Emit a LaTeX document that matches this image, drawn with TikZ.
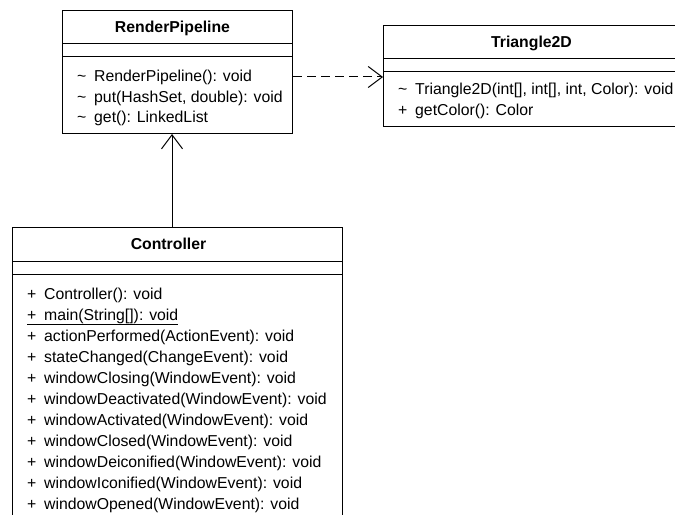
\documentclass[tikz,border=0pt]{standalone}
\usepackage{fontspec}
\setmainfont{Liberation Sans}
\usetikzlibrary{arrows.meta}

\tikzset{
  classbox/.style={draw=black, line width=1bp, fill=white, inner sep=0pt, anchor=north west},
  sepline/.style={draw=black, line width=1bp},
  classtitle/.style={font=\fontsize{15.8bp}{19bp}\selectfont\bfseries, anchor=base, inner sep=0pt},
  member/.style={anchor=base west, inner sep=0pt},
  dependency/.style={line width=1bp, dash pattern=on 9bp off 5bp,
    -{Straight Barb[length=14bp, width=21bp, line width=1bp]}},
  association/.style={line width=1bp,
    -{Straight Barb[length=14bp, width=21bp, line width=1bp]}},
}
\newcommand{\vis}[1]{\makebox[17bp][l]{#1}}

\begin{document}
\begin{tikzpicture}[x=1bp, y=-1bp, font=\fontsize{15.8bp}{19bp}\selectfont]
  \useasboundingbox (0,0) rectangle (675,515);
  \clip (0,0) rectangle (675,515);
  \fill[white] (0,0) rectangle (675,515);

  % RenderPipeline
  \node[classbox, minimum width=230bp, minimum height=123bp] (rp) at (62,10) {};
  \draw[sepline] (62,44) -- (292,44);
  \draw[sepline] (62,57) -- (292,57);
  \node[classtitle] (rpt) at (172.5,33) {RenderPipeline};
  \node[member] (rp1) at (77,82) {\vis{\textasciitilde}RenderPipeline(): void};
  \node[member] (rp2) at (77,102.5) {\vis{\textasciitilde}put(HashSet, double): void};
  \node[member] (rp3) at (77,123) {\vis{\textasciitilde}get(): LinkedList};

  % Triangle2D
  \node[classbox, minimum width=300bp, minimum height=101bp] (tri) at (383,25) {};
  \draw[sepline] (383,59) -- (683,59);
  \draw[sepline] (383,72) -- (683,72);
  \node[classtitle] (trit) at (531.5,48) {Triangle2D};
  \node[member] (tri1) at (398,95) {\vis{\textasciitilde}Triangle2D(int[], int[], int, Color): void};
  \node[member] (tri2) at (398,116) {\vis{+}getColor(): Color};

  % Controller
  \node[classbox, minimum width=330bp, minimum height=320bp] (ctrl) at (12,227) {};
  \draw[sepline] (12,261) -- (342,261);
  \draw[sepline] (12,274) -- (342,274);
  \node[classtitle] (ctrlt) at (168.5,249.5) {Controller};
  \node[member] (c1)  at (27,299) {\vis{+}Controller(): void};
  \node[member] (c2)  at (27,320) {\underline{\vis{+}main(String[]): void}};
  \node[member] (c3)  at (27,341) {\vis{+}actionPerformed(ActionEvent): void};
  \node[member] (c4)  at (27,362) {\vis{+}stateChanged(ChangeEvent): void};
  \node[member] (c5)  at (27,383) {\vis{+}windowClosing(WindowEvent): void};
  \node[member] (c6)  at (27,404) {\vis{+}windowDeactivated(WindowEvent): void};
  \node[member] (c7)  at (27,425) {\vis{+}windowActivated(WindowEvent): void};
  \node[member] (c8)  at (27,446) {\vis{+}windowClosed(WindowEvent): void};
  \node[member] (c9)  at (27,467) {\vis{+}windowDeiconified(WindowEvent): void};
  \node[member] (c10) at (27,488) {\vis{+}windowIconified(WindowEvent): void};
  \node[member] (c11) at (27,509) {\vis{+}windowOpened(WindowEvent): void};

  % connectors
  \coordinate (deprow) at (0,77);
  \coordinate (assoccol) at (172,0);
  \draw[dependency] (rp.east |- deprow) -- (tri.west |- deprow);
  \draw[association] (ctrl.north -| assoccol) -- (rp.south -| assoccol);
\end{tikzpicture}
\end{document}
